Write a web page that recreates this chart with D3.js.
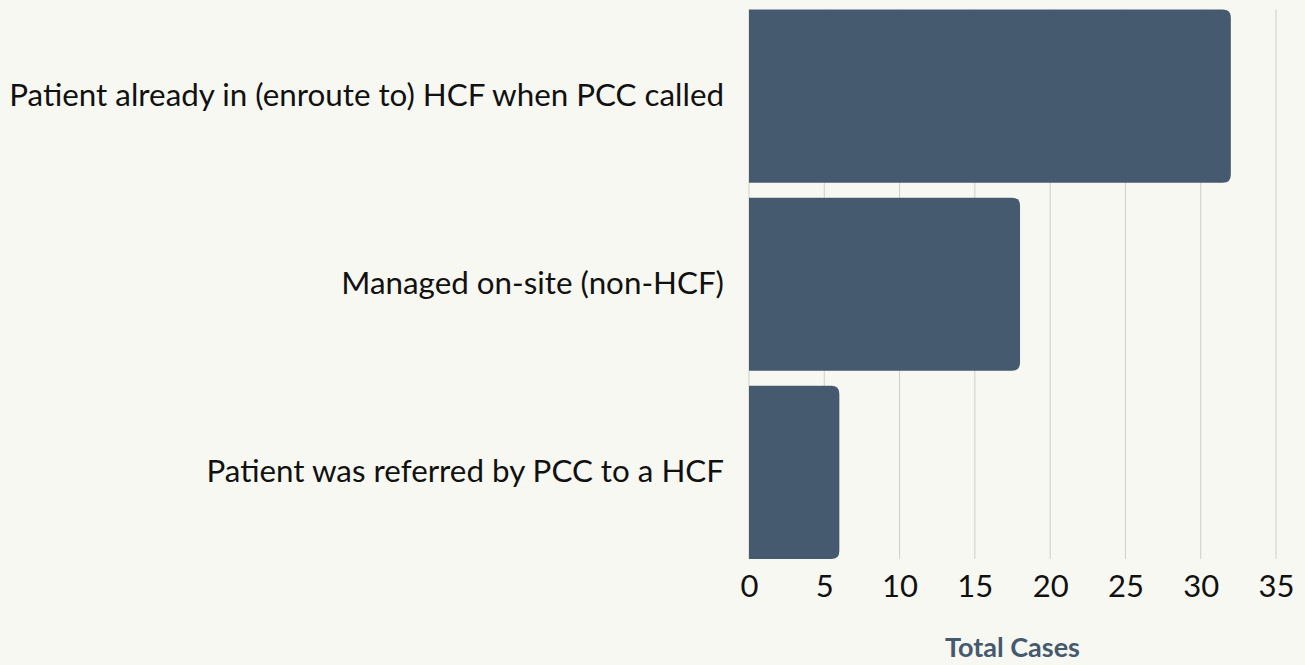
<!DOCTYPE html>
<html><head><meta charset="utf-8">
<script src="https://cdn.jsdelivr.net/npm/d3@7"></script>
<style>
html,body{margin:0;padding:0;background:#f8f8f2;}
svg{display:block;font-family:Lato, "Open Sans", sans-serif;}
</style></head>
<body>
<svg id="chart" width="1305" height="665"></svg>
<script>
const categories = ["Patient already in (enroute to) HCF when PCC called","Managed on-site (non-HCF)","Patient was referred by PCC to a HCF"];
const values = [32, 18, 6];
const xTicks = [0,5,10,15,20,25,30,35];
const xTitle = "Total Cases";

const W = 1305, H = 665;
const margin = {left: 749, right: 29, top: 9.5, bottom: 106};
const svg = d3.select("#chart");
svg.append("rect").attr("width", W).attr("height", H).attr("fill", "#f8f8f2");

const x = d3.scaleLinear().domain([0, 35]).range([margin.left, W - margin.right]);
const y = d3.scaleBand().domain(categories).range([margin.top, H - margin.bottom]).paddingInner(0.08).paddingOuter(0);

// grid
svg.append("g").selectAll("line").data(xTicks).join("line")
  .attr("x1", d => x(d)).attr("x2", d => x(d))
  .attr("y1", margin.top).attr("y2", H - margin.bottom)
  .attr("stroke", "#cfcfc8").attr("stroke-width", 1);

// bars with right rounded corners
const r = 8;
svg.append("g").selectAll("path").data(categories).join("path")
  .attr("fill", "#465a6f")
  .attr("d", (c, i) => {
    const x0 = x(0), x1 = x(values[i]), y0 = y(c), h = y.bandwidth();
    const rr = Math.min(r, (x1 - x0) / 2);
    return `M${x0},${y0} H${x1 - rr} Q${x1},${y0} ${x1},${y0 + rr} V${y0 + h - rr} Q${x1},${y0 + h} ${x1 - rr},${y0 + h} H${x0} Z`;
  });

// x axis
const xAxis = d3.axisBottom(x).tickValues(xTicks).tickSize(0).tickPadding(16);
const gx = svg.append("g").attr("transform", `translate(0,${H - margin.bottom})`).call(xAxis);
gx.select(".domain").remove();
gx.selectAll("text").attr("font-size", 31).attr("fill", "#111").attr("font-family", "Lato, sans-serif").attr("font-weight", 400);

// y axis
const yAxis = d3.axisLeft(y).tickSize(0).tickPadding(25);
const gy = svg.append("g").attr("transform", `translate(${margin.left},0)`).call(yAxis);
gy.select(".domain").remove();
gy.selectAll("text").attr("font-size", 28).attr("fill", "#111").attr("font-family", "Lato, sans-serif").attr("font-weight", 400);
// fit longest label to reference width
let maxW = 0;
gy.selectAll("text").each(function(){ maxW = Math.max(maxW, this.getComputedTextLength()); });
const target = 715;
gy.selectAll("text").attr("font-size", 28 * target / maxW);

svg.append("text").attr("x", (x(0) + x(35)) / 2).attr("y", 657)
  .attr("text-anchor", "middle").attr("font-size", 27).attr("font-weight", 700)
  .attr("fill", "#465a6f").attr("font-family", "Lato, sans-serif").text(xTitle);
</script>
</body></html>
